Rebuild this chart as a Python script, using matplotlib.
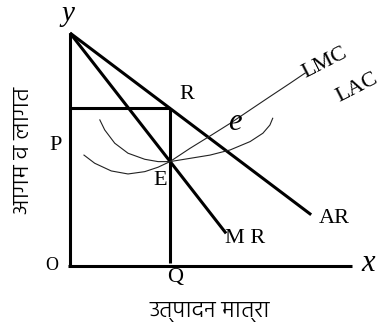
import matplotlib as mpl
mpl.use('agg')
import matplotlib.pyplot as plt
from matplotlib import font_manager
import os

# monopoly long-run equilibrium diagram (units: price / quantity)
y_top = 10.0
x_end = 12.1

demand_start = [0.0, 10.0]
ar_end = [10.35, 2.2]
mr_end = [6.7, 1.4]

q_eq = 4.29
p_eq = 6.78
e_level = 4.48

lac_x = [1.28, 1.49, 1.92, 2.49, 3.21, 3.78, 4.29, 5.15, 6.01, 6.87, 7.73, 8.28, 8.58, 8.70]
lac_y = [6.27, 5.84, 5.27, 4.84, 4.58, 4.48, 4.48, 4.62, 4.76, 4.98, 5.34, 5.70, 6.05, 6.34]

lmc_x = [0.60, 1.06, 1.77, 2.49, 3.21, 3.78, 4.29, 5.15, 6.01, 6.87, 7.73, 8.58, 9.44, 10.09]
lmc_y = [4.76, 4.41, 4.08, 3.95, 4.05, 4.24, 4.48, 5.05, 5.58, 6.12, 6.70, 7.27, 7.84, 8.28]

ylab = 'आगम व लागत'
xlab = 'उत्पादन मात्रा'

# devanagari font : try a few light ones by file name
deva = None
all_fonts = font_manager.findSystemFonts()
for want in ['Hind-Light', 'NotoSansDevanagari-Light', 'Hind-Regular', 'NotoSansDevanagari-Regular', 'NotoSansDevanagariUI-Regular']:
  for f in all_fonts:
    if os.path.basename(f).startswith(want):
      deva = f
      break
  if deva is not None:
    break

def deva_props(size):
  if deva is not None:
    return font_manager.FontProperties(fname=deva, size=size)
  return font_manager.FontProperties(family='DejaVu Sans', size=size)

plt.rcParams['font.family'] = ['Liberation Serif', 'DejaVu Serif']

s = 23.3
fig = plt.figure(figsize=(3.81, 3.26), dpi=100)
ax = fig.add_axes([0, 0, 1, 1])
ax.set_xlim(-70/s, 311/s)
ax.set_ylim(-60/s, 266/s)
ax.axis('off')

thick = dict(color='k', lw=2.2, solid_capstyle='butt')
thin = dict(color='#222222', lw=0.8)

# axes
ax.plot([0, 0], [0, y_top], **thick)
ax.plot([-0.1, x_end], [0, 0], **thick)

# AR and MR
ax.plot([demand_start[0], ar_end[0]], [demand_start[1], ar_end[1]], **thick)
ax.plot([demand_start[0], mr_end[0]], [demand_start[1], mr_end[1]], **thick)

# price and quantity guides
ax.plot([0, q_eq], [p_eq, p_eq], **thick)
ax.plot([q_eq, q_eq], [p_eq, 0.15], **thick)

# cost curves
ax.plot(lac_x, lac_y, **thin)
ax.plot(lmc_x, lmc_y, **thin)

fs = 16
ax.text(-0.09, 10.52, 'y', fontsize=21, style='italic', ha='center', va='baseline')
ax.text(12.8, -0.21, 'x', fontsize=22, style='italic', ha='center', va='baseline')
ax.text(7.06, 5.84, 'e', fontsize=22, style='italic', ha='center', va='baseline')
ax.text(-0.77, 0.0, 'O', fontsize=13, ha='center', va='center')
ax.text(-0.64, 5.19, 'P', fontsize=fs, ha='center', va='center')
ax.text(4.51, -0.50, 'Q', fontsize=fs, ha='center', va='center')
ax.text(5.02, 7.34, 'R', fontsize=fs, ha='center', va='center')
ax.text(3.86, 3.65, 'E', fontsize=fs, ha='center', va='center')
ax.text(7.51, 1.16, 'M R', fontsize=fs, ha='center', va='center')
ax.text(11.33, 2.06, 'AR', fontsize=fs, ha='center', va='center')
ax.text(10.94, 8.71, 'LMC', fontsize=fs, ha='center', va='center', rotation=27)
ax.text(12.32, 7.64, 'LAC', fontsize=fs, ha='center', va='center', rotation=27)

ax.text(-2.0, 4.98, ylab, fontproperties=deva_props(17.5), rotation=90, ha='center', va='center')
ax.text(6.01, -1.93, xlab, fontproperties=deva_props(17), ha='center', va='center')

plt.savefig('out.png', dpi=100)
